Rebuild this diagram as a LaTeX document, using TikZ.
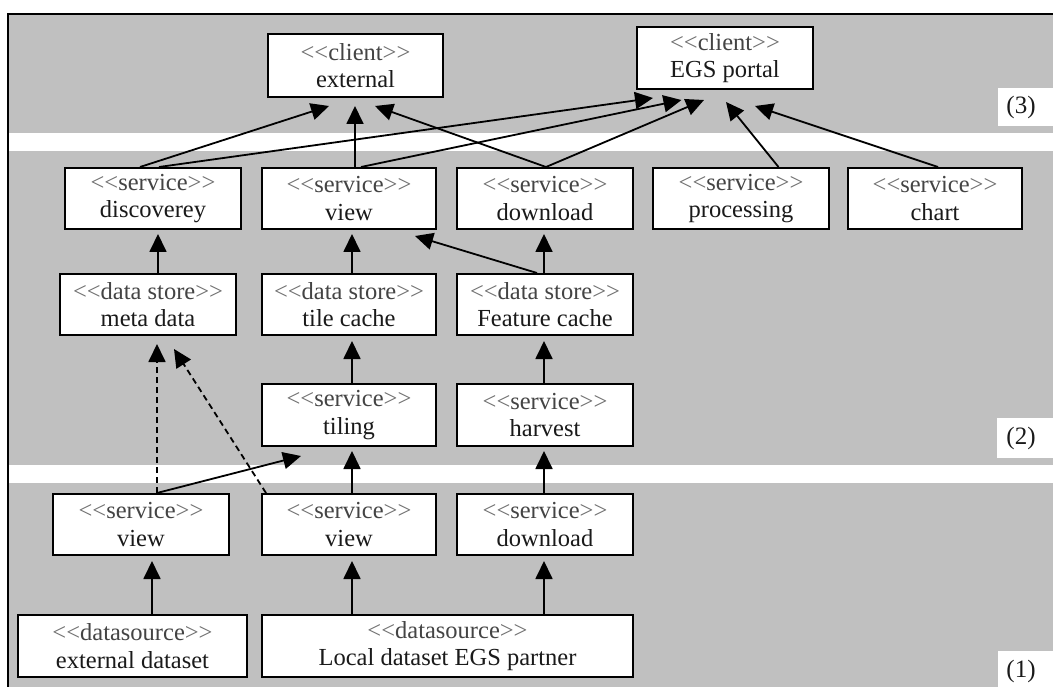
\documentclass[tikz,border=0pt]{standalone}
\usepackage{fontspec}
\setmainfont{Liberation Serif}
\usetikzlibrary{arrows.meta}
\definecolor{bandgray}{HTML}{C0C0C0}
\definecolor{ltg}{HTML}{707070}
\definecolor{mdg}{HTML}{444444}
\definecolor{dkg}{HTML}{1A1A1A}
\newcommand\sto[1]{{\color{ltg}<\kern0pt<}{\color{mdg}#1}{\color{ltg}>\kern0pt>}}
\begin{document}
\begin{tikzpicture}[x=1pt,y=-1pt,
  box/.style={draw=black, fill=white, line width=2pt, inner sep=0pt, align=center,
    font=\fontsize{24.5}{27.5}\selectfont, text=dkg},
  arr/.style={line width=1.8pt, -{Triangle[length=18pt,width=17pt]}},
  dsh/.style={arr, dash pattern=on 6pt off 4pt},
  lvl/.style={inner sep=0pt, font=\fontsize{25}{28}\selectfont, text=dkg}
]
\useasboundingbox (0,0) rectangle (1053,687);
% bands
\fill[bandgray] (8,14) rectangle (1053,133);
\fill[bandgray] (8,151) rectangle (1053,465);
\fill[bandgray] (8,483) rectangle (1053,687);
\draw[line width=1.6pt] (1053,14) -- (8,14) -- (8,687);
% level labels
\fill[white] (998,88) rectangle (1053,126);
\node[lvl] (l3) at (1021,107) {(3)};
\fill[white] (997,418) rectangle (1053,458);
\node[lvl] (l2) at (1021,438) {(2)};
\fill[white] (998,651) rectangle (1053,687);
\node[lvl] (l1) at (1021,671) {(1)};

% nodes
\node[box, minimum width=175pt, minimum height=63pt] (ext) at (355.5,65.5) {\sto{client}\\external};
\node[box, minimum width=176pt, minimum height=62pt] (egs) at (725,58) {\sto{client}\\EGS portal};

\node[box, minimum width=176pt, minimum height=61pt] (disc) at (153,198.5) {\sto{service}\\discoverey};
\node[box, minimum width=174pt, minimum height=61pt] (view1) at (349,198.5) {\sto{service}\\view};
\node[box, minimum width=176pt, minimum height=61pt] (down1) at (545,198.5) {\sto{service}\\download};
\node[box, minimum width=176pt, minimum height=61pt] (proc) at (741,198.5) {\sto{service}\\processing};
\node[box, minimum width=174pt, minimum height=61pt] (chart) at (935,198.5) {\sto{service}\\chart};

\node[box, minimum width=176pt, minimum height=61pt] (meta) at (148,304.5) {\sto{data store}\\meta data};
\node[box, minimum width=174pt, minimum height=61pt] (tile) at (349,304.5) {\sto{data store}\\tile cache};
\node[box, minimum width=176pt, minimum height=61pt] (feat) at (545,304.5) {\sto{data store}\\Feature cache};

\node[box, minimum width=174pt, minimum height=62pt] (tiling) at (349,415) {\sto{service}\\tiling};
\node[box, minimum width=176pt, minimum height=62pt] (harv) at (545,415) {\sto{service}\\harvest};

\node[box, minimum width=176pt, minimum height=61pt] (viewE) at (141,524.5) {\sto{service}\\view};
\node[box, minimum width=174pt, minimum height=61pt] (viewL) at (349,524.5) {\sto{service}\\view};
\node[box, minimum width=176pt, minimum height=61pt] (down2) at (545,524.5) {\sto{service}\\download};

\node[box, minimum width=229pt, minimum height=62pt] (extds) at (132.5,646) {\sto{datasource}\\external dataset};
\node[box, minimum width=371pt, minimum height=62pt] (local) at (447.5,646) {\sto{datasource}\\Local dataset EGS partner};

% connectors to clients
\draw[arr] ([shift={(-13,0)}]disc.north) -- ([shift={(-26.5,8)}]ext.south);
\draw[arr] ([shift={(6,0)}]view1.north) -- ([shift={(-0.5,8)}]ext.south);
\draw[arr] ([shift={(1,0)}]down1.north) -- ([shift={(19.5,8)}]ext.south);
\draw[arr] ([shift={(6,0)}]disc.north) -- ([shift={(-72,8)}]egs.south);
\draw[arr] ([shift={(12,0)}]view1.north) -- ([shift={(-43.5,10)}]egs.south);
\draw[arr] ([shift={(1,0)}]down1.north) -- ([shift={(-21,10)}]egs.south);
\draw[arr] ([shift={(37.5,0)}]proc.north) -- ([shift={(1,12)}]egs.south);
\draw[arr] ([shift={(3,0)}]chart.north) -- ([shift={(30,16)}]egs.south);

% middle
\draw[arr] ([shift={(10,0)}]meta.north) -- ([shift={(5,4)}]disc.south);
\draw[arr] ([shift={(3,0)}]tile.north) -- ([shift={(3,4)}]view1.south);
\draw[arr] ([shift={(-1,0)}]feat.north) -- ([shift={(-1,4)}]down1.south);
\draw[arr] ([shift={(-8,0)}]feat.north) -- ([shift={(66,6)}]view1.south);
\draw[arr] ([shift={(3,0)}]tiling.north) -- ([shift={(3,5)}]tile.south);
\draw[arr] ([shift={(-1,0)}]harv.north) -- ([shift={(-1,5)}]feat.south);

% lower
\draw[arr] ([shift={(16,0)}]viewE.north) -- ([shift={(-48,9)}]tiling.south);
\draw[dsh] ([shift={(16,0)}]viewE.north) -- ([shift={(9,8)}]meta.south);
\draw[dsh] ([shift={(5,0)}]viewL.north west) -- ([shift={(26,13)}]meta.south);
\draw[arr] ([shift={(3,0)}]viewL.north) -- ([shift={(3,4)}]tiling.south);
\draw[arr] ([shift={(-1,0)}]down2.north) -- ([shift={(-1,4)}]harv.south);

% bottom
\draw[arr] ([shift={(19.5,0)}]extds.north) -- ([shift={(11,5)}]viewE.south);
\draw[arr] ([shift={(-95.5,0)}]local.north) -- ([shift={(3,5)}]viewL.south);
\draw[arr] ([shift={(96.5,0)}]local.north) -- ([shift={(-1,5)}]down2.south);
\end{tikzpicture}
\end{document}
